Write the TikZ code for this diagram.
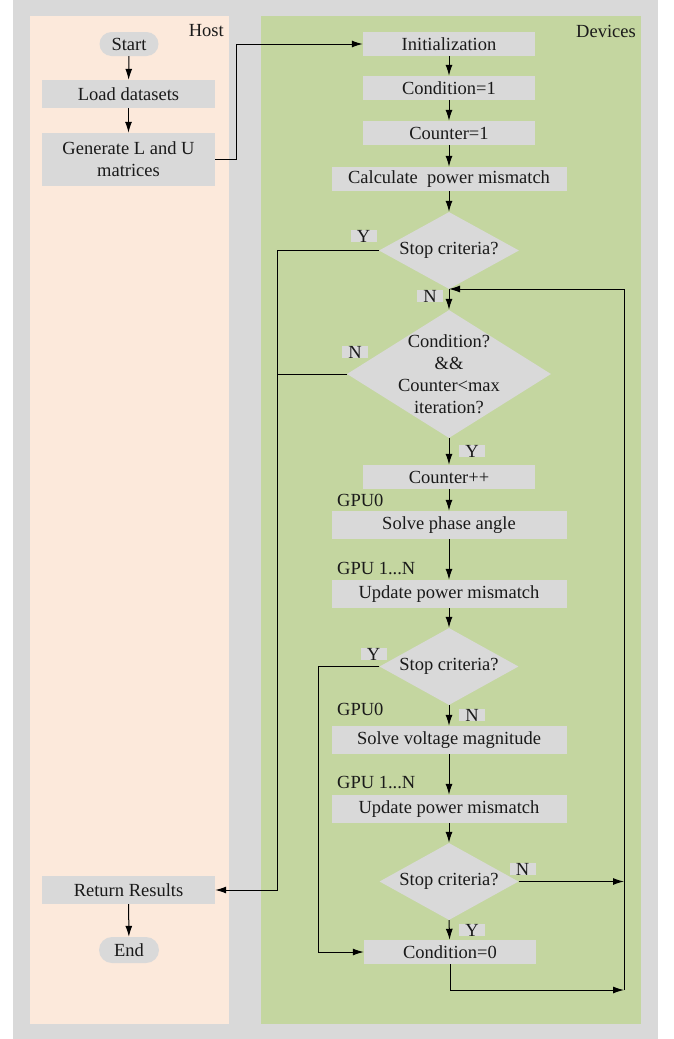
\documentclass[tikz,border=0pt]{standalone}
\usepackage{fontspec}
\setmainfont{Liberation Serif}
\newfontfamily\tnr{Liberation Serif}
\usetikzlibrary{arrows.meta,shapes.geometric}
\definecolor{bggray}{HTML}{D9D9D9}
\definecolor{hostc}{HTML}{FCE9DB}
\definecolor{devc}{HTML}{C4D6A0}
\definecolor{boxc}{HTML}{D9D9D9}
\definecolor{txtc}{HTML}{1A1A1A}
\begin{document}
\begin{tikzpicture}[x=1pt,y=-1pt,
  font=\tnr\fontsize{18.5}{22}\selectfont,
  proc/.style={fill=boxc, inner sep=0pt, minimum height=24pt, text=txtc, align=center},
  term/.style={proc, rounded corners=12pt, minimum width=59pt, minimum height=24pt},
  dia/.style={diamond, fill=boxc, inner sep=0pt},
  lbl/.style={fill=boxc, inner sep=0pt, minimum width=26pt, text height=12pt, text depth=0pt, text=txtc},
  gpu/.style={anchor=west, inner sep=0pt, text=txtc},
  arr/.style={-{Latex[length=11pt,width=7pt]}, line width=1pt},
  ln/.style={line width=1pt}]
\useasboundingbox (0,0) rectangle (673,1039);
% backgrounds
\fill[bggray] (13,0) rectangle (658,1039);
\fill[hostc] (30,16) rectangle (229,1024);
\fill[devc] (261,16) rectangle (641,1024);
\node[anchor=east, text=txtc, inner sep=0pt] (host) at (224,31) {Host};
\node[anchor=east, text=txtc, inner sep=0pt] (dev) at (636,31) {Devices};
% host nodes
\node[term] (start) at (129,44) {Start};
\node[proc, minimum width=173pt, minimum height=28pt] (load) at (128.5,94) {Load datasets};
\node[proc, minimum width=173pt, minimum height=53pt] (gen) at (128.5,159.5) {Generate L and U\\matrices};
\node[proc, minimum width=173pt, minimum height=28pt] (ret) at (128.5,890) {Return Results};
\node[term, minimum width=60pt, minimum height=26pt, rounded corners=13pt] (end) at (129,950) {End};
% device nodes
\node[proc, minimum width=172pt] (init) at (449,44) {Initialization};
\node[proc, minimum width=172pt] (cond1) at (449,88) {Condition=1};
\node[proc, minimum width=172pt] (cnt1) at (449,133) {Counter=1};
\node[proc, minimum width=235pt] (calc) at (449,179) {Calculate\ \ power mismatch};
\node[dia, minimum width=140pt, minimum height=77pt] (d1) at (449,250.5) {};
\node[text=txtc] (d1t) at (d1) {Stop criteria?};
\node[dia, minimum width=204pt, minimum height=128pt] (d2) at (449,374) {};
\node[text=txtc, align=center, inner sep=0pt] (d2t) at (d2) {Condition?\\\&\&\\Counter<max\\iteration?};
\node[proc, minimum width=172pt] (cnt) at (449,477) {Counter++};
\node[gpu] (g0a) at (337,500) {GPU0};
\node[proc, minimum width=235pt, minimum height=28pt] (phase) at (449,525) {Solve phase angle};
\node[gpu] (g1a) at (337,568) {GPU 1...N};
\node[proc, minimum width=235pt, minimum height=28pt] (upd1) at (449,594) {Update power mismatch};
\node[dia, minimum width=139pt, minimum height=77pt] (d3) at (449,666.5) {};
\node[text=txtc] (d3t) at (d3) {Stop criteria?};
\node[gpu] (g0b) at (337,709) {GPU0};
\node[proc, minimum width=235pt, minimum height=28pt] (volt) at (449,740) {Solve voltage magnitude};
\node[gpu] (g1b) at (337,782) {GPU 1...N};
\node[proc, minimum width=235pt, minimum height=28pt] (upd2) at (449,809) {Update power mismatch};
\node[dia, minimum width=139pt, minimum height=77pt] (d4) at (449,881.5) {};
\node[text=txtc] (d4t) at (d4) {Stop criteria?};
\node[proc, minimum width=172pt] (cond0) at (450,952) {Condition=0};
% Y/N labels
\node[lbl] (l1) at (363.5,236) {Y};
\node[lbl] (l2) at (430,296) {N};
\node[lbl] (l3) at (355,352) {N};
\node[lbl] (l4) at (472,451) {Y};
\node[lbl] (l5) at (373.5,654) {Y};
\node[lbl] (l6) at (472,715) {N};
\node[lbl] (l7) at (522.5,869) {N};
\node[lbl] (l8) at (472,930) {Y};
% helper coordinates
\coordinate (yl) at (277,890);
\coordinate (yl2) at (318,952);
\coordinate (rb) at (624,990);
\coordinate (rt) at (624,289);
\coordinate (jn) at (449,289);
% host connectors
\draw[arr] (start) -- (load);
\draw[arr] (load) -- (gen);
\draw[arr] (ret) -- (end);
\draw[arr] (gen.east) -- ++(21,0) |- (init.west);
% device connectors
\draw[arr] (init) -- (cond1);
\draw[arr] (cond1) -- (cnt1);
\draw[arr] (cnt1) -- (calc);
\draw[arr] (calc) -- (d1.north);
\draw[arr] (d1.south) -- (d2.north);
\draw[arr] (d1.west) -| (yl) -- (ret.east);
\draw[ln] (d2.west) -- (d2.west -| yl);
\draw[arr] (d2.south) -- (cnt);
\draw[arr] (cnt) -- (phase);
\draw[arr] (phase) -- (upd1);
\draw[arr] (upd1) -- (d3.north);
\draw[arr] (d3.south) -- (volt);
\draw[arr] (d3.west) -| (yl2) -- (cond0.west);
\draw[arr] (volt) -- (upd2);
\draw[arr] (upd2) -- (d4.north);
\draw[arr] (d4.south) -- (cond0);
\draw[arr] (d4.east) -- (d4.east -| rb);
\draw[arr] (cond0.south) |- (rb);
\draw[arr] (rb) -- (rt) -- (jn);
\end{tikzpicture}
\end{document}
